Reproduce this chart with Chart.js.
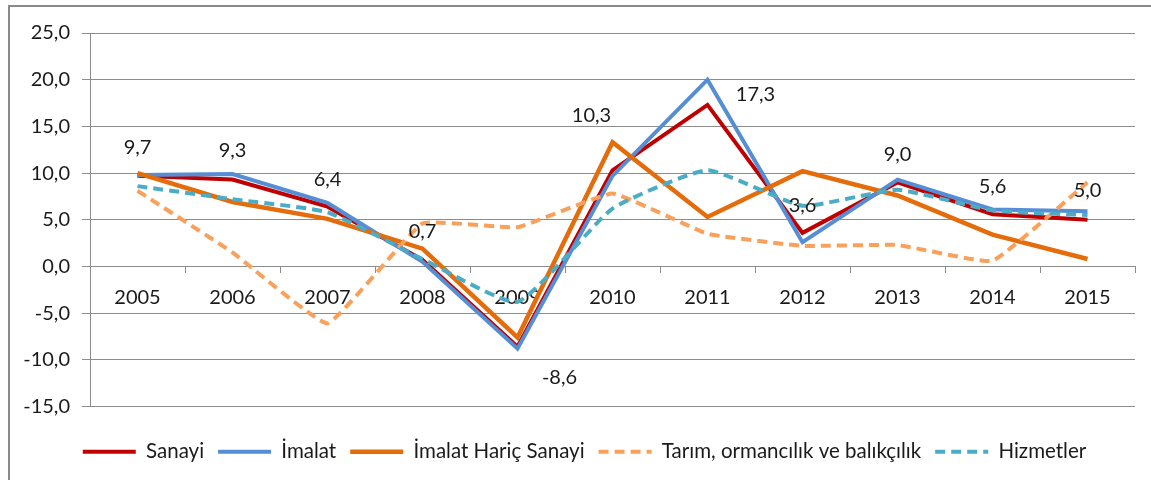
<!DOCTYPE html>
<html><head><meta charset="utf-8">
<script src="https://cdn.jsdelivr.net/npm/chart.js@4"></script>
<style>
html,body{margin:0;padding:0;background:#fff;overflow:hidden;}
#wrap{position:relative;width:1151px;height:480px;}
#frame{position:absolute;left:8px;top:5px;width:1200px;height:600px;border-left:2px solid #8a8a8a;border-top:2px solid #8a8a8a;pointer-events:none;}
canvas{position:absolute;left:0;top:0;}
</style></head><body>
<div id="wrap"><canvas id="c" width="1151" height="480"></canvas><div id="frame"></div></div>
<script>
const years = ['2005','2006','2007','2008','2009','2010','2011','2012','2013','2014','2015'];
const sanayi = [9.7, 9.3, 6.4, 0.7, -8.6, 10.3, 17.3, 3.6, 9.0, 5.6, 5.0];
const imalat = [9.8, 9.9, 6.8, 0.5, -8.8, 9.7, 20.0, 2.6, 9.3, 6.1, 5.9];
const imalatHaric = [10.0, 6.9, 5.1, 1.9, -7.6, 13.3, 5.3, 10.2, 7.6, 3.4, 0.8];
const tarim = [8.1, 1.5, -6.1, 4.6, 4.2, 7.8, 3.5, 2.2, 2.3, 0.6, 9.0];
const hizmetler = [8.6, 7.2, 5.8, 0.8, -3.8, 6.2, 10.3, 6.5, 8.2, 6.0, 5.5];
const seriesNames = ['Sanayi','İmalat','İmalat Hariç Sanayi','Tarım, ormancılık ve balıkçılık','Hizmetler'];
const yMin = -15, yMax = 25, yStep = 5;

const FONT = 'Lato, "Open Sans", sans-serif';
const fmt = v => Number(v).toFixed(1).replace('.', ',');

// label offsets for the Sanayi data labels (pixels)
const labelOffsets = [[0,-28],[0,-29],[0,-27],[0,-28],[42,31],[-21,-55],[48,-10],[0,-27],[0,-28],[0,-28],[0,-29]];

const dataLabels = {
  id: 'dataLabels',
  afterDatasetsDraw(chart) {
    const meta = chart.getDatasetMeta(0);
    const ctx = chart.ctx;
    ctx.save();
    ctx.font = '20px ' + FONT;
    ctx.fillStyle = '#1a1a1a';
    ctx.textAlign = 'center';
    ctx.textBaseline = 'middle';
    meta.data.forEach((pt, i) => {
      const o = labelOffsets[i] || [0, -28];
      ctx.fillText(fmt(chart.data.datasets[0].data[i]), pt.x + o[0], pt.y + o[1]);
    });
    ctx.restore();
  }
};

const legendShift = {
  id: 'legendShift',
  afterLayout(chart) {
    const lg = chart.legend;
    if (!lg) return;
    const dy = 21, dx = 17;
    lg.top += dy; lg.bottom += dy;
    lg.left += dx; lg.right += dx;
  }
};

const mk = (i, data, color, width, dash, tension, order) => ({
  label: seriesNames[i], data, borderColor: color, backgroundColor: color,
  borderWidth: width, borderDash: dash, tension, pointRadius: 0, pointHoverRadius: 0,
  fill: false, order, borderCapStyle: 'butt', borderJoinStyle: 'miter'
});

new Chart(document.getElementById('c'), {
  type: 'line',
  data: {
    labels: years,
    datasets: [
      mk(0, sanayi, '#C00000', 4, [], 0, 5),
      mk(1, imalat, '#558ED5', 4, [], 0, 4),
      mk(2, imalatHaric, '#E46C0A', 4.5, [], 0, 3),
      mk(3, tarim, '#F9A05A', 4, [10, 6], 0.1, 2),
      mk(4, hizmetler, '#4BACC6', 4, [10, 6], 0.15, 1)
    ]
  },
  options: {
    responsive: false,
    animation: false,
    events: [],
    layout: { padding: { top: 33, right: 16, bottom: 29, left: 0 } },
    scales: {
      x: {
        type: 'category',
        position: { y: 0 },
        offset: true,
        grid: { display: true, drawOnChartArea: false, drawTicks: true, tickLength: 6, offset: true, color: '#8c8c8c', lineWidth: 1 },
        border: { display: true, color: '#8c8c8c', width: 1 },
        ticks: { color: '#1a1a1a', font: { family: FONT, size: 20 }, padding: 13, maxRotation: 0, autoSkip: false }
      },
      y: {
        min: yMin, max: yMax,
        afterFit(scale) { scale.width = 90; },
        grid: { color: '#8c8c8c', lineWidth: 1, tickLength: 8, drawTicks: true },
        border: { display: true, color: '#8c8c8c', width: 1 },
        ticks: { stepSize: yStep, color: '#1a1a1a', font: { family: FONT, size: 20 }, padding: 12, callback: v => fmt(v) }
      }
    },
    plugins: {
      tooltip: { enabled: false },
      legend: {
        position: 'bottom',
        labels: {
          usePointStyle: true, pointStyle: 'line', pointStyleWidth: 53,
          boxHeight: 20, padding: 14,
          color: '#1a1a1a', font: { family: FONT, size: 20.5 },
          sort: (a, b) => a.datasetIndex - b.datasetIndex,
          generateLabels(chart) {
            const items = Chart.defaults.plugins.legend.labels.generateLabels(chart);
            items.forEach(it => {
              const ds = chart.data.datasets[it.datasetIndex];
              it.lineDash = ds.borderDash;
              it.lineWidth = ds.borderWidth;
              it.strokeStyle = ds.borderColor;
              it.fillStyle = ds.borderColor;
              it.lineCap = 'butt';
            });
            return items;
          }
        }
      }
    }
  },
  plugins: [dataLabels, legendShift]
});
</script>
</body></html>
